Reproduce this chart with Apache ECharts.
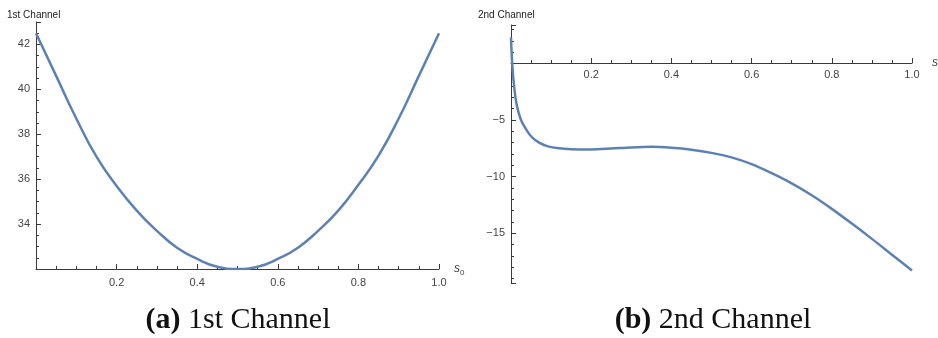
<!DOCTYPE html>
<html>
<head>
<meta charset="utf-8">
<script src="https://cdn.jsdelivr.net/npm/echarts@6/dist/echarts.min.js"></script>
<style>
  html, body { margin: 0; padding: 0; background: #fff; }
  #chart { width: 938px; height: 338px; }
</style>
</head>
<body>
<div id="chart"></div>
<script>
// 1st channel
const s0Vals = [0, 0.05, 0.1, 0.15, 0.2, 0.25, 0.3, 0.35, 0.4, 0.45, 0.5,
  0.55, 0.6, 0.65, 0.7, 0.75, 0.8, 0.85, 0.9, 0.95, 1.0];
const ch1Vals = [42.5, 40.6, 38.7, 37.0, 35.7, 34.6, 33.7, 32.95, 32.45, 32.1, 32.0,
  32.1, 32.45, 32.95, 33.7, 34.6, 35.75, 37.05, 38.7, 40.6, 42.5];

// 2nd channel
const s1Vals = [0, 0.003, 0.008, 0.014, 0.025, 0.04, 0.052, 0.07, 0.09, 0.12, 0.15,
  0.2, 0.25, 0.3, 0.35, 0.4, 0.45, 0.5, 0.55, 0.6, 0.65, 0.7, 0.75, 0.8, 0.85, 0.9, 0.95, 1.0];
const ch2Vals = [2.3, 0, -2.1, -3.6, -5.0, -5.95, -6.5, -7.0, -7.3, -7.5, -7.58,
  -7.6, -7.52, -7.42, -7.37, -7.45, -7.62, -7.9, -8.3, -8.9, -9.7, -10.6, -11.65, -12.85, -14.15, -15.5, -16.9, -18.3];

const xTicks = ['0.2', '0.4', '0.6', '0.8', '1.0'];
const ch1Ticks = [34, 36, 38, 40, 42];
const ch2Ticks = [-15, -10, -5];

const zip = (xs, ys) => xs.map((x, i) => [x, ys[i]]);

const lineColor = '#5E81B5';
const axisColor = '#3a3a3a';
const labelColor = '#444';
const font = 'Liberation Sans';

const axisName = (sub) => ({
  name: '{s|s}{sub|' + sub + '}',
  nameLocation: 'end',
  nameTextStyle: {
    rich: {
      s: { fontFamily: font, fontSize: 12, fontStyle: 'italic', color: labelColor },
      sub: { fontFamily: font, fontSize: 8, color: labelColor, padding: [7, 0, 0, 0] }
    }
  }
});

const xLabel = {
  margin: 8,
  fontFamily: font,
  fontSize: 11,
  color: labelColor,
  formatter: (v) => {
    const t = v.toFixed(1);
    return xTicks.includes(t) ? t : '';
  }
};

const chart = echarts.init(document.getElementById('chart'));
chart.setOption({
  animation: false,
  backgroundColor: '#fff',
  title: [
    { text: '1st Channel', left: 2, top: 5,
      textStyle: { fontFamily: font, fontSize: 10, fontWeight: 'normal', color: '#222' } },
    { text: '2nd Channel', left: 473, top: 5,
      textStyle: { fontFamily: font, fontSize: 10, fontWeight: 'normal', color: '#222' } },
    { text: '{b|(a)} 1st Channel', left: 233, top: 300, textAlign: 'center',
      textStyle: { fontFamily: 'Liberation Serif', fontSize: 30, fontWeight: 'normal', color: '#111',
        rich: { b: { fontFamily: 'Liberation Serif', fontSize: 30, fontWeight: 'bold', color: '#111' } } } },
    { text: '{b|(b)} 2nd Channel', left: 708, top: 300, textAlign: 'center',
      textStyle: { fontFamily: 'Liberation Serif', fontSize: 30, fontWeight: 'normal', color: '#111',
        rich: { b: { fontFamily: 'Liberation Serif', fontSize: 30, fontWeight: 'bold', color: '#111' } } } }
  ],
  grid: [
    { left: 36, top: 22, width: 403, height: 247, outerBoundsMode: 'none' },
    { left: 511, top: 25, width: 401, height: 258, outerBoundsMode: 'none' }
  ],
  xAxis: [
    Object.assign({
      type: 'value', gridIndex: 0,
      min: 0, max: 1, interval: 0.2,
      nameGap: 15,
      axisLine: { lineStyle: { color: axisColor, width: 1 } },
      axisTick: { inside: true, length: 5, lineStyle: { color: axisColor } },
      minorTick: { show: true, splitNumber: 4, length: 3, lineStyle: { color: axisColor } },
      splitLine: { show: false },
      axisLabel: xLabel
    }, axisName('0')),
    // 2nd channel: axis drawn at y = 0, ticks up, labels under the line
    Object.assign({
      type: 'value', gridIndex: 1,
      min: 0, max: 1, interval: 0.2,
      position: 'top', offset: -38,
      nameGap: 20,
      axisLine: { onZero: false, lineStyle: { color: axisColor, width: 1 } },
      axisTick: { inside: false, length: 5, lineStyle: { color: axisColor } },
      minorTick: { show: true, splitNumber: 4, length: 3, lineStyle: { color: axisColor } },
      splitLine: { show: false },
      axisLabel: Object.assign({}, xLabel, { inside: true, margin: 6 })
    }, axisName('1'))
  ],
  yAxis: [
    {
      type: 'value', gridIndex: 0,
      min: 32, max: 43, interval: 2,
      axisLine: { show: true, lineStyle: { color: axisColor, width: 1 } },
      axisTick: { show: true, inside: true, length: 5, lineStyle: { color: axisColor } },
      minorTick: { show: true, splitNumber: 4, length: 3, lineStyle: { color: axisColor } },
      splitLine: { show: false },
      axisLabel: {
        margin: 6, fontFamily: font, fontSize: 11, color: labelColor,
        formatter: (v) => (ch1Ticks.includes(v) ? String(v) : '')
      }
    },
    {
      type: 'value', gridIndex: 1,
      min: -19.4, max: 3.4, minInterval: 5, maxInterval: 5,
      axisLine: { show: true, onZero: false, lineStyle: { color: axisColor, width: 1 } },
      axisTick: { show: true, inside: true, length: 5, lineStyle: { color: axisColor } },
      minorTick: { show: true, splitNumber: 5, length: 3, lineStyle: { color: axisColor } },
      splitLine: { show: false },
      axisLabel: {
        margin: 6, fontFamily: font, fontSize: 11, color: labelColor,
        formatter: (v) => (ch2Ticks.includes(v) ? '\u2212' + Math.abs(v) : '')
      }
    }
  ],
  series: [
    {
      type: 'line', xAxisIndex: 0, yAxisIndex: 0,
      data: zip(s0Vals, ch1Vals),
      smooth: 0.5,
      showSymbol: false,
      lineStyle: { color: lineColor, width: 2.5 }
    },
    {
      type: 'line', xAxisIndex: 1, yAxisIndex: 1,
      data: zip(s1Vals, ch2Vals),
      smooth: 0.3,
      showSymbol: false,
      lineStyle: { color: lineColor, width: 2.5 }
    }
  ]
});
</script>
</body>
</html>
